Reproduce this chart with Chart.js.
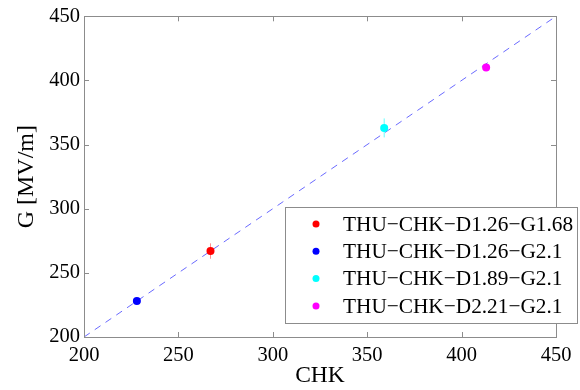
<!DOCTYPE html>
<html>
<head>
<meta charset="utf-8">
<script src="https://cdn.jsdelivr.net/npm/chart.js@4"></script>
<style>
  html, body { margin: 0; padding: 0; background: #fff; }
  #wrap { width: 580px; height: 390px; position: relative; }
</style>
</head>
<body>
<div id="wrap"><canvas id="chart"></canvas></div>
<script>
// data
const seriesLabels = [
  'THU\u2212CHK\u2212D1.26\u2212G1.68',
  'THU\u2212CHK\u2212D1.26\u2212G2.1',
  'THU\u2212CHK\u2212D1.89\u2212G2.1',
  'THU\u2212CHK\u2212D2.21\u2212G2.1'
];
const chkValues = [267, 228, 359, 413];
const gValues = [267, 228, 363, 410];
const gErrors = [6, 1.5, 7.4, 1.5];
const seriesColors = ['#ff0000', '#0000ff', '#00ffff', '#ff00ff'];
const errorColors = ['rgba(255,0,0,0.45)', 'rgba(0,0,255,0.45)', 'rgba(0,255,255,0.6)', 'rgba(255,0,255,0.45)'];
const diagonal = [200, 450];
const axisTicks = [200, 250, 300, 350, 400, 450];

const serif = '"Liberation Serif", "Times New Roman", serif';

// 误差棒
const errorBarPlugin = {
  id: 'errorBars',
  afterDatasetsDraw(chart) {
    const ctx = chart.ctx;
    const xs = chart.scales.x, ys = chart.scales.y;
    ctx.save();
    ctx.lineWidth = 1;
    chkValues.forEach((cx, i) => {
      const px = xs.getPixelForValue(cx);
      ctx.strokeStyle = errorColors[i];
      ctx.beginPath();
      ctx.moveTo(px, ys.getPixelForValue(gValues[i] - gErrors[i]));
      ctx.lineTo(px, ys.getPixelForValue(gValues[i] + gErrors[i]));
      ctx.stroke();
    });
    ctx.restore();
  }
};

// 边框 + 朝内刻度 + 图例
const framePlugin = {
  id: 'frame',
  afterDraw(chart) {
    const ctx = chart.ctx;
    const a = chart.chartArea;
    const xs = chart.scales.x, ys = chart.scales.y;
    ctx.save();
    ctx.strokeStyle = '#8c8c8c';
    ctx.lineWidth = 1;
    ctx.strokeRect(Math.round(a.left) + 0.5, Math.round(a.top) + 0.5,
      Math.round(a.right - a.left), Math.round(a.bottom - a.top));
    ctx.beginPath();
    axisTicks.forEach(v => {
      const px = Math.round(xs.getPixelForValue(v)) + 0.5;
      ctx.moveTo(px, a.bottom); ctx.lineTo(px, a.bottom - 5);
      ctx.moveTo(px, a.top); ctx.lineTo(px, a.top + 5);
      const py = Math.round(ys.getPixelForValue(v)) + 0.5;
      ctx.moveTo(a.left, py); ctx.lineTo(a.left + 5, py);
      ctx.moveTo(a.right, py); ctx.lineTo(a.right - 5, py);
    });
    ctx.stroke();

    // legend box
    const bx = 285.5, by = 207.5, bw = 292, bh = 116;
    ctx.fillStyle = '#fff';
    ctx.fillRect(bx, by, bw, bh);
    ctx.strokeStyle = '#8c8c8c';
    ctx.strokeRect(bx, by, bw, bh);
    ctx.font = '21.3px ' + serif;
    ctx.textBaseline = 'middle';
    ctx.textAlign = 'left';
    seriesLabels.forEach((lab, i) => {
      const cy = 224 + i * 27.3;
      ctx.fillStyle = seriesColors[i];
      ctx.beginPath();
      ctx.arc(316, cy, 3.5, 0, Math.PI * 2);
      ctx.fill();
      ctx.fillStyle = '#000';
      ctx.fillText(lab, 343, cy + 1);
    });
    ctx.restore();
  }
};

const datasets = [{
  label: 'y=x',
  data: diagonal.map(v => ({ x: v, y: v })),
  showLine: true,
  borderColor: 'rgba(80,80,255,0.85)',
  borderWidth: 1,
  borderDash: [7, 6],
  pointRadius: 0,
  order: 5
}];
seriesLabels.forEach((lab, i) => {
  datasets.push({
    label: lab,
    data: [{ x: chkValues[i], y: gValues[i] }],
    backgroundColor: seriesColors[i],
    borderColor: seriesColors[i],
    pointRadius: 4,
    pointBorderWidth: 0,
    order: 1
  });
});

new Chart(document.getElementById('chart'), {
  type: 'scatter',
  data: { datasets },
  options: {
    responsive: true,
    maintainAspectRatio: false,
    animation: false,
    layout: { padding: { top: 15, right: 24, left: 0, bottom: 0 } },
    plugins: {
      legend: { display: false },
      tooltip: { enabled: false }
    },
    scales: {
      x: {
        type: 'linear',
        min: 200, max: 450,
        afterBuildTicks: s => { s.ticks = axisTicks.map(v => ({ value: v })); },
        afterFit: s => { s.height = 53; },
        grid: { display: false, drawTicks: false },
        border: { display: false },
        ticks: { color: '#000', font: { family: serif, size: 20.5 }, padding: 6, maxRotation: 0 },
        title: { display: true, text: 'CHK', color: '#000', font: { family: serif, size: 23.5 }, padding: { top: 0, bottom: 0 } }
      },
      y: {
        type: 'linear',
        min: 200, max: 450,
        afterBuildTicks: s => { s.ticks = axisTicks.map(v => ({ value: v })); },
        afterFit: s => { s.width = 84; },
        grid: { display: false, drawTicks: false },
        border: { display: false },
        ticks: { color: '#000', font: { family: serif, size: 20.5 }, padding: 4 },
        title: { display: true, text: 'G [MV/m]', color: '#000', font: { family: serif, size: 24 }, padding: { top: 12, bottom: 0 } }
      }
    }
  },
  plugins: [errorBarPlugin, framePlugin]
});
</script>
</body>
</html>
